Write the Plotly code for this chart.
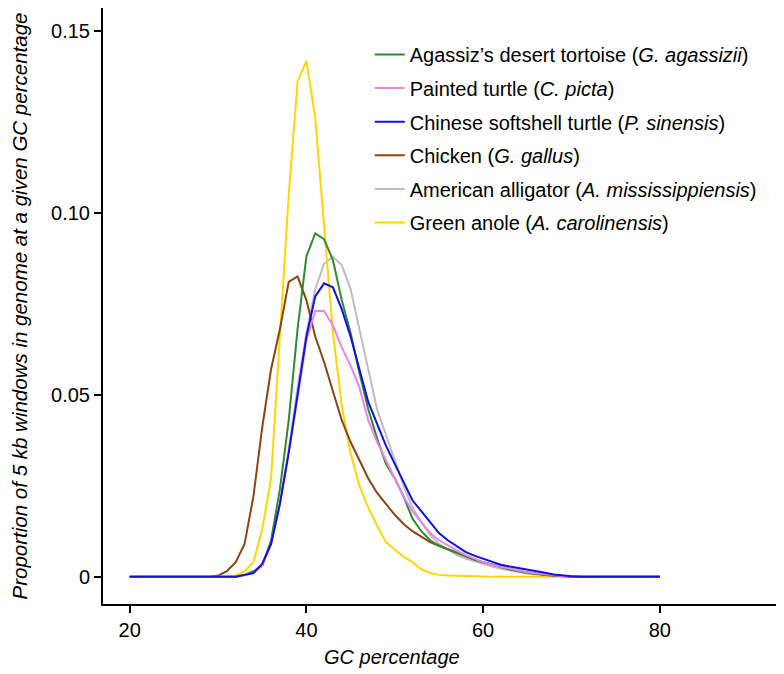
import plotly.graph_objects as go

gc = list(range(20, 81))

def pad(start, vals):
    # values given from GC=start onward; zero before and after
    out = [0.0] * len(gc)
    for i, v in enumerate(vals):
        out[start - 20 + i] = v
    return out

# Agassiz's desert tortoise, values from GC=33
tortoise = pad(33, [0.0005, 0.0015, 0.003, 0.010, 0.024, 0.043, 0.068, 0.088, 0.0943, 0.0927,
                    0.087, 0.076, 0.067, 0.056, 0.046, 0.038, 0.031, 0.027, 0.022, 0.016,
                    0.0125, 0.010, 0.0085, 0.0075, 0.0065, 0.0055, 0.0047, 0.004, 0.0033, 0.0027,
                    0.002, 0.0015, 0.001, 0.0008, 0.0005, 0.0003, 0.0002, 0.0001])
painted = pad(33, [0.0004, 0.001, 0.003, 0.009, 0.020, 0.034, 0.049, 0.065, 0.073, 0.073,
                   0.069, 0.063, 0.058, 0.052, 0.043, 0.037, 0.032, 0.027, 0.022, 0.018,
                   0.015, 0.012, 0.010, 0.0085, 0.0072, 0.006, 0.005, 0.004, 0.0033, 0.0027,
                   0.0022, 0.0017, 0.0012, 0.0009, 0.0006, 0.0003, 0.0002, 0.0001])
softshell = pad(33, [0.0005, 0.001, 0.0035, 0.009, 0.020, 0.034, 0.050, 0.066, 0.077, 0.0806,
                     0.0795, 0.0735, 0.066, 0.057, 0.048, 0.042, 0.036, 0.031, 0.026, 0.021,
                     0.018, 0.015, 0.012, 0.010, 0.0083, 0.0068, 0.0058, 0.005, 0.004, 0.0033,
                     0.0028, 0.0024, 0.002, 0.0015, 0.0011, 0.0006, 0.0003, 0.0001])
chicken = pad(30, [0.0003, 0.0015, 0.004, 0.009, 0.022, 0.041, 0.057, 0.068, 0.081, 0.0825,
                   0.076, 0.066, 0.059, 0.051, 0.043, 0.037, 0.032, 0.027, 0.023, 0.020,
                   0.017, 0.0145, 0.0125, 0.011, 0.0095, 0.0085, 0.0075, 0.0065, 0.0055, 0.0047,
                   0.004, 0.0033, 0.0027, 0.0021, 0.0016, 0.0011, 0.0008, 0.0005, 0.0003, 0.0001])
alligator = pad(33, [0.0005, 0.0012, 0.0035, 0.009, 0.020, 0.035, 0.052, 0.067, 0.079, 0.086,
                     0.0879, 0.0856, 0.079, 0.068, 0.057, 0.046, 0.039, 0.032, 0.025, 0.019,
                     0.015, 0.0115, 0.009, 0.0075, 0.006, 0.005, 0.0042, 0.0035, 0.0028, 0.0022,
                     0.0017, 0.0013, 0.0009, 0.0006, 0.0004, 0.0002, 0.0001])
anole = pad(32, [0.0003, 0.0015, 0.004, 0.013, 0.027, 0.067, 0.105, 0.136, 0.1418, 0.126,
                 0.096, 0.067, 0.047, 0.034, 0.025, 0.019, 0.014, 0.0095, 0.0075, 0.0055,
                 0.004, 0.002, 0.001, 0.0005, 0.0003, 0.0002, 0.0002, 0.0001, 0.0001])

names = [
    "Agassiz’s desert tortoise (<i>G. agassizii</i>)",
    "Painted turtle (<i>C. picta</i>)",
    "Chinese softshell turtle (<i>P. sinensis</i>)",
    "Chicken (<i>G. gallus</i>)",
    "American alligator (<i>A. mississippiensis</i>)",
    "Green anole (<i>A. carolinensis</i>)",
]
series = [tortoise, painted, softshell, chicken, alligator, anole]
colors = ["#2E8B2E", "#EE82EE", "#1010E0", "#8B4513", "#BEBEBE", "#FFD700"]

y_tickvals = [0, 0.05, 0.10, 0.15]
y_ticktext = ["0", "0.05", "0.10", "0.15"]
x_tickvals = [20, 40, 60, 80]

fig = go.Figure()
# draw order: so that blue sits on top as in reference
order = [4, 5, 3, 0, 1, 2]
for i in order:
    fig.add_trace(go.Scatter(x=gc, y=series[i], mode="lines", name=names[i],
                             line=dict(color=colors[i], width=2),
                             legendrank=i + 1, legendgroup=str(i)))

font = "Arial, Liberation Sans, sans-serif"
# the page body has an 8px default margin, so the figure is 8px smaller each way
fig.update_layout(
    width=776, height=666,
    margin=dict(l=95, r=4, t=0, b=70),
    plot_bgcolor="white", paper_bgcolor="white",
    font=dict(family=font, size=20, color="black"),
    showlegend=True,
    legend=dict(x=0.394, y=0.9547, xanchor="left", yanchor="top",
                font=dict(size=20), tracegroupgap=4.6, bgcolor="rgba(0,0,0,0)"),
    xaxis=dict(range=[16.98, 93.6], tickvals=x_tickvals, showline=True, linecolor="black",
               linewidth=2, ticks="outside", ticklen=7, tickwidth=2, tickcolor="black",
               showgrid=False, zeroline=False, tickfont=dict(size=20), automargin=False),
    yaxis=dict(range=[-0.0075, 0.15624], tickvals=y_tickvals, ticktext=y_ticktext,
               showline=True, linecolor="black", linewidth=2, ticks="outside", ticklen=7,
               tickwidth=2, tickcolor="black", showgrid=False, zeroline=False,
               tickfont=dict(size=20), automargin=False,
               title=dict(text="<i>Proportion of 5 kb windows in genome at a given GC percentage</i>",
                          font=dict(size=20.5), standoff=30)),
    annotations=[dict(text="<i>GC percentage</i>", xref="paper", yref="paper",
                      x=0.427, y=-0.0889, xanchor="center", yanchor="middle",
                      showarrow=False, font=dict(size=20))],
)

fig.write_html("out.html")
